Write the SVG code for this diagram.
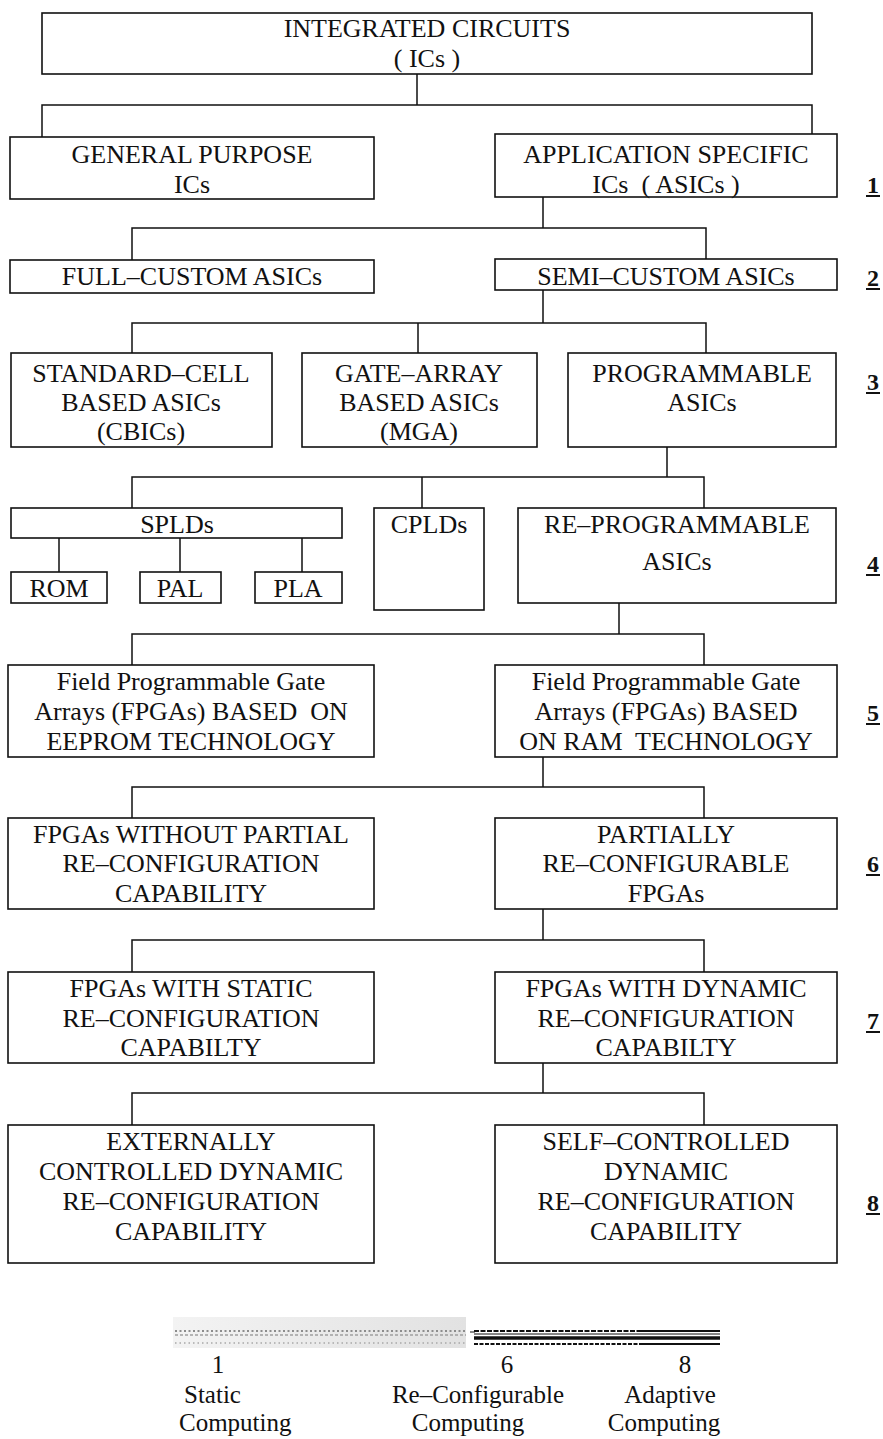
<svg xmlns="http://www.w3.org/2000/svg" width="883" height="1439" viewBox="0 0 883 1439">
  <defs>
    <style>
      .box { fill: #ffffff; stroke: #111111; stroke-width: 1.6; }
      .wire { fill: none; stroke: #111111; stroke-width: 1.5; }
      .t { font-family: "Liberation Serif", "Times New Roman", serif; font-size: 26px; fill: #111111; text-anchor: middle; white-space: pre; }
      .lvl { font-family: "Liberation Serif", "Times New Roman", serif; font-size: 24px; font-weight: bold; fill: #111111; text-anchor: middle; }
      .ul { stroke: #111111; stroke-width: 2; }
      .cap { font-family: "Liberation Serif", "Times New Roman", serif; font-size: 25px; fill: #111111; white-space: pre; }
    </style>
    <linearGradient id="staticFade" x1="0" y1="0" x2="1" y2="0">
      <stop offset="0" stop-color="#f3f3f3"/>
      <stop offset="1" stop-color="#e2e2e2"/>
    </linearGradient>
  </defs>
  <rect width="883" height="1439" fill="#ffffff"/>

  <!-- tree connectors -->
  <g id="connectors" class="wire">
    <path d="M417 74 V105 M42 137 V105 H812 V134"/>
    <path d="M543 197 V228 M132 260 V228 H706 V259"/>
    <path d="M543 290 V323 M132 353 V323 H706 V353 M418 323 V353"/>
    <path d="M667 447 V477 M132 508 V477 H704 V508 M422 477 V508"/>
    <path d="M59 538 V572 M180 538 V572 M302 538 V572"/>
    <path d="M619 603 V634 M132 665 V634 H704 V665"/>
    <path d="M543 757 V787 M132 818 V787 H704 V818"/>
    <path d="M543 909 V940 M132 972 V940 H704 V972"/>
    <path d="M543 1063 V1093 M132 1125 V1093 H704 V1125"/>
  </g>

  <g id="ics">
    <rect class="box" x="42" y="13" width="770" height="61"/>
    <text class="t" x="427" y="37">INTEGRATED CIRCUITS</text>
    <text class="t" x="427" y="67">( ICs )</text>
  </g>

  <g id="general-purpose">
    <rect class="box" x="10" y="137" width="364" height="62"/>
    <text class="t" x="192" y="163">GENERAL PURPOSE</text>
    <text class="t" x="192" y="193">ICs</text>
  </g>
  <g id="asics">
    <rect class="box" x="495" y="134" width="342" height="63"/>
    <text class="t" x="666" y="163">APPLICATION SPECIFIC</text>
    <text class="t" x="666" y="193">ICs  ( ASICs )</text>
  </g>

  <g id="full-custom">
    <rect class="box" x="10" y="260" width="364" height="33"/>
    <text class="t" x="192" y="285">FULL–CUSTOM ASICs</text>
  </g>
  <g id="semi-custom">
    <rect class="box" x="495" y="259" width="342" height="31"/>
    <text class="t" x="666" y="285">SEMI–CUSTOM ASICs</text>
  </g>

  <g id="standard-cell">
    <rect class="box" x="11" y="353" width="261" height="94"/>
    <text class="t" x="141" y="382">STANDARD–CELL</text>
    <text class="t" x="141" y="411">BASED ASICs</text>
    <text class="t" x="141" y="440">(CBICs)</text>
  </g>
  <g id="gate-array">
    <rect class="box" x="302" y="353" width="235" height="94"/>
    <text class="t" x="419" y="382">GATE–ARRAY</text>
    <text class="t" x="419" y="411">BASED ASICs</text>
    <text class="t" x="419" y="440">(MGA)</text>
  </g>
  <g id="programmable">
    <rect class="box" x="568" y="353" width="268" height="94"/>
    <text class="t" x="702" y="382">PROGRAMMABLE</text>
    <text class="t" x="702" y="411">ASICs</text>
  </g>

  <g id="splds">
    <rect class="box" x="11" y="508" width="331" height="30"/>
    <text class="t" x="177" y="533">SPLDs</text>
  </g>
  <g id="rom">
    <rect class="box" x="11" y="572" width="96" height="31"/>
    <text class="t" x="59" y="597">ROM</text>
  </g>
  <g id="pal">
    <rect class="box" x="140" y="572" width="81" height="31"/>
    <text class="t" x="180" y="597">PAL</text>
  </g>
  <g id="pla">
    <rect class="box" x="255" y="572" width="87" height="31"/>
    <text class="t" x="298" y="597">PLA</text>
  </g>
  <g id="cplds">
    <rect class="box" x="374" y="508" width="110" height="102"/>
    <text class="t" x="429" y="533">CPLDs</text>
  </g>
  <g id="re-programmable">
    <rect class="box" x="518" y="508" width="318" height="95"/>
    <text class="t" x="677" y="533">RE–PROGRAMMABLE</text>
    <text class="t" x="677" y="570">ASICs</text>
  </g>

  <g id="fpga-eeprom">
    <rect class="box" x="8" y="665" width="366" height="92"/>
    <text class="t" x="191" y="690">Field Programmable Gate</text>
    <text class="t" x="191" y="720">Arrays (FPGAs) BASED  ON</text>
    <text class="t" x="191" y="750">EEPROM TECHNOLOGY</text>
  </g>
  <g id="fpga-ram">
    <rect class="box" x="495" y="665" width="342" height="92"/>
    <text class="t" x="666" y="690">Field Programmable Gate</text>
    <text class="t" x="666" y="720">Arrays (FPGAs) BASED</text>
    <text class="t" x="666" y="750">ON RAM  TECHNOLOGY</text>
  </g>

  <g id="no-partial">
    <rect class="box" x="8" y="818" width="366" height="91"/>
    <text class="t" x="191" y="843">FPGAs WITHOUT PARTIAL</text>
    <text class="t" x="191" y="872">RE–CONFIGURATION</text>
    <text class="t" x="191" y="902">CAPABILITY</text>
  </g>
  <g id="partial">
    <rect class="box" x="495" y="818" width="342" height="91"/>
    <text class="t" x="666" y="843">PARTIALLY</text>
    <text class="t" x="666" y="872">RE–CONFIGURABLE</text>
    <text class="t" x="666" y="902">FPGAs</text>
  </g>

  <g id="static-reconf">
    <rect class="box" x="8" y="972" width="366" height="91"/>
    <text class="t" x="191" y="997">FPGAs WITH STATIC</text>
    <text class="t" x="191" y="1027">RE–CONFIGURATION</text>
    <text class="t" x="191" y="1056">CAPABILTY</text>
  </g>
  <g id="dynamic-reconf">
    <rect class="box" x="495" y="972" width="342" height="91"/>
    <text class="t" x="666" y="997">FPGAs WITH DYNAMIC</text>
    <text class="t" x="666" y="1027">RE–CONFIGURATION</text>
    <text class="t" x="666" y="1056">CAPABILTY</text>
  </g>

  <g id="external-control">
    <rect class="box" x="8" y="1125" width="366" height="138"/>
    <text class="t" x="191" y="1150">EXTERNALLY</text>
    <text class="t" x="191" y="1180">CONTROLLED DYNAMIC</text>
    <text class="t" x="191" y="1210">RE–CONFIGURATION</text>
    <text class="t" x="191" y="1240">CAPABILITY</text>
  </g>
  <g id="self-control">
    <rect class="box" x="495" y="1125" width="342" height="138"/>
    <text class="t" x="666" y="1150">SELF–CONTROLLED</text>
    <text class="t" x="666" y="1180">DYNAMIC</text>
    <text class="t" x="666" y="1210">RE–CONFIGURATION</text>
    <text class="t" x="666" y="1240">CAPABILITY</text>
  </g>

  <!-- level numbers -->
  <g id="levels">
    <text class="lvl" x="873" y="193">1</text><line class="ul" x1="866" y1="196" x2="880" y2="196"/>
    <text class="lvl" x="873" y="286">2</text><line class="ul" x1="866" y1="289" x2="880" y2="289"/>
    <text class="lvl" x="873" y="390">3</text><line class="ul" x1="866" y1="393" x2="880" y2="393"/>
    <text class="lvl" x="873" y="572">4</text><line class="ul" x1="866" y1="575" x2="880" y2="575"/>
    <text class="lvl" x="873" y="721">5</text><line class="ul" x1="866" y1="724" x2="880" y2="724"/>
    <text class="lvl" x="873" y="872">6</text><line class="ul" x1="866" y1="875" x2="880" y2="875"/>
    <text class="lvl" x="873" y="1029">7</text><line class="ul" x1="866" y1="1032" x2="880" y2="1032"/>
    <text class="lvl" x="873" y="1211">8</text><line class="ul" x1="866" y1="1214" x2="880" y2="1214"/>
  </g>

  <!-- computing scale bar -->
  <g id="scale-bar">
    <rect x="173" y="1317" width="293" height="31" fill="url(#staticFade)"/>
    <line x1="175" y1="1331" x2="466" y2="1331" stroke="#8c8c8c" stroke-width="2" stroke-dasharray="2 2.5"/>
    <line x1="175" y1="1335" x2="466" y2="1335" stroke="#a0a0a0" stroke-width="1.5" stroke-dasharray="3 2"/>
    <line x1="175" y1="1343" x2="466" y2="1343" stroke="#a8a8a8" stroke-width="1.5" stroke-dasharray="1.5 3"/>
    <line x1="470" y1="1332" x2="475" y2="1332" stroke="#111" stroke-width="1"/>
    <line x1="474" y1="1331" x2="640" y2="1331" stroke="#111" stroke-width="1.8" stroke-dasharray="5 1.5"/>
    <line x1="640" y1="1331" x2="720" y2="1331" stroke="#111" stroke-width="1.8"/>
    <line x1="474" y1="1334" x2="720" y2="1334" stroke="#111" stroke-width="1.2"/>
    <line x1="474" y1="1338" x2="720" y2="1338" stroke="#111" stroke-width="3.5"/>
    <line x1="474" y1="1344" x2="640" y2="1344" stroke="#111" stroke-width="2" stroke-dasharray="4 1.5"/>
    <line x1="640" y1="1344" x2="720" y2="1344" stroke="#111" stroke-width="2"/>
  </g>
  <g id="scale-labels">
    <text class="cap" x="218" y="1373" text-anchor="middle">1</text>
    <text class="cap" x="507" y="1373" text-anchor="middle">6</text>
    <text class="cap" x="685" y="1373" text-anchor="middle">8</text>
    <text class="cap" x="184" y="1403">Static</text>
    <text class="cap" x="179" y="1431">Computing</text>
    <text class="cap" x="478" y="1403" text-anchor="middle">Re–Configurable</text>
    <text class="cap" x="468" y="1431" text-anchor="middle">Computing</text>
    <text class="cap" x="670" y="1403" text-anchor="middle">Adaptive</text>
    <text class="cap" x="664" y="1431" text-anchor="middle">Computing</text>
  </g>
</svg>
